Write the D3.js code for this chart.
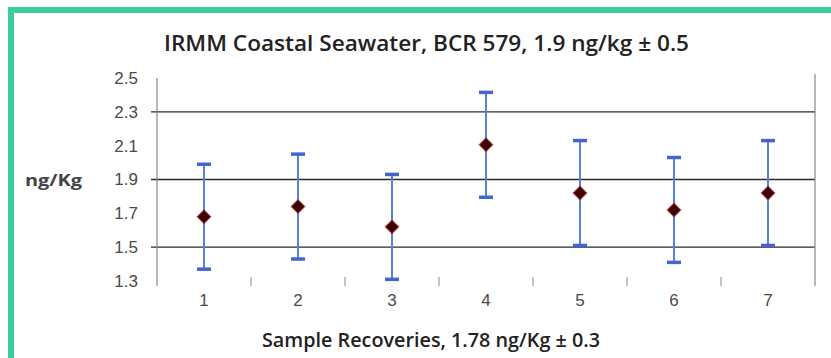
<!DOCTYPE html>
<html>
<head>
<meta charset="utf-8">
<script src="https://cdn.jsdelivr.net/npm/d3@7"></script>
<style>
  html, body { margin: 0; padding: 0; background: #fff; }
  svg { display: block; }
</style>
</head>
<body>
<div id="chart"></div>
<script>
const samples = ['1', '2', '3', '4', '5', '6', '7']
const means = [1.68, 1.74, 1.62, 2.105, 1.82, 1.72, 1.82]
const errors = [0.31, 0.31, 0.31, 0.31, 0.31, 0.31, 0.31]
const yTicks = [1.3, 1.5, 1.7, 1.9, 2.1, 2.3, 2.5]
const gridValues = [1.5, 1.9, 2.3]

const title = 'IRMM Coastal Seawater, BCR 579, 1.9 ng/kg \u00b1 0.5'
const xTitle = 'Sample Recoveries, 1.78 ng/Kg \u00b1 0.3'
const yTitle = 'ng/Kg'

const width = 831
const height = 358
const margin = { top: 78, right: 16, bottom: 77, left: 157 }
const tickFont = 'Liberation Sans Narrow, Arial Narrow, Liberation Sans, sans-serif'
const titleFont = 'Open Sans, Noto Sans, sans-serif'

const svg = d3.select('#chart')
  .append('svg')
  .attr('width', width)
  .attr('height', height)

// green frame on top/left edges
svg.append('rect').attr('x', 8).attr('y', 7).attr('width', width - 8).attr('height', 6).attr('fill', '#3dcd98')
svg.append('rect').attr('x', 8).attr('y', 7).attr('width', 6).attr('height', height - 7).attr('fill', '#3dcd98')

const x = d3.scaleBand()
  .domain(samples)
  .range([margin.left, width - margin.right])

const y = d3.scaleLinear()
  .domain([1.3, 2.5])
  .range([height - margin.bottom, margin.top])

const g = svg.append('g')

// gridlines
g.selectAll('line.grid')
  .data(gridValues)
  .join('line')
  .attr('class', 'grid')
  .attr('x1', margin.left - 6)
  .attr('x2', width - margin.right)
  .attr('y1', d => y(d))
  .attr('y2', d => y(d))
  .attr('stroke', '#2a2a2a')
  .attr('stroke-width', 1.4)

// left and right axis lines
g.append('line')
  .attr('x1', margin.left).attr('x2', margin.left)
  .attr('y1', y(2.5)).attr('y2', y(1.3) + 5)
  .attr('stroke', '#888').attr('stroke-width', 1.2)
g.append('line')
  .attr('x1', width - margin.right).attr('x2', width - margin.right)
  .attr('y1', y(2.5) - 4).attr('y2', y(1.3) + 5)
  .attr('stroke', '#888').attr('stroke-width', 1.2)

// y tick labels
const yAxis = d3.axisLeft(y).tickValues(yTicks).tickFormat(d3.format('.1f')).tickSize(0).tickPadding(19)
const yAxisG = g.append('g')
  .attr('transform', `translate(${margin.left},0)`)
  .call(yAxis)
yAxisG.select('.domain').remove()
yAxisG.selectAll('text')
  .attr('fill', '#4a4a4a')
  .attr('font-size', '17px')
  .attr('font-family', tickFont)

// x tick marks between categories
const boundaries = samples.slice(1).map(s => x(s))
g.selectAll('line.xtick')
  .data(boundaries)
  .join('line')
  .attr('class', 'xtick')
  .attr('x1', d => d).attr('x2', d => d)
  .attr('y1', y(1.3) - 4).attr('y2', y(1.3) + 5)
  .attr('stroke', '#999').attr('stroke-width', 1.2)

// x labels
const xAxis = d3.axisBottom(x).tickSize(0).tickPadding(13)
const xAxisG = g.append('g')
  .attr('transform', `translate(0,${y(1.3)})`)
  .call(xAxis)
xAxisG.select('.domain').remove()
xAxisG.selectAll('text')
  .attr('fill', '#4a4a4a')
  .attr('font-size', '17px')
  .attr('font-family', tickFont)

const data = samples.map((s, i) => ({ s, mean: means[i], err: errors[i] }))
const cx = d => x(d.s) + x.bandwidth() / 2

// error bars
const bars = g.append('g').selectAll('g').data(data).join('g')
bars.append('line')
  .attr('x1', cx).attr('x2', cx)
  .attr('y1', d => y(d.mean + d.err))
  .attr('y2', d => y(d.mean - d.err))
  .attr('stroke', '#5a80dc')
  .attr('stroke-width', 2)
bars.selectAll('line.cap')
  .data(d => [d.mean + d.err, d.mean - d.err].map(v => ({ d, v })))
  .join('line')
  .attr('class', 'cap')
  .attr('x1', p => cx(p.d) - 7).attr('x2', p => cx(p.d) + 7)
  .attr('y1', p => y(p.v)).attr('y2', p => y(p.v))
  .attr('stroke', '#4466cc')
  .attr('stroke-width', 3.5)

// diamond markers
const diamond = d3.symbol().type(d3.symbolDiamond2).size(115)
g.append('g').selectAll('path')
  .data(data)
  .join('path')
  .attr('d', diamond)
  .attr('transform', d => `translate(${cx(d)},${y(d.mean)})`)
  .attr('fill', '#3a0306')
  .attr('stroke', '#a01818')
  .attr('stroke-width', 1.4)
  .attr('stroke-opacity', 0.55)

// titles
svg.append('text')
  .attr('x', 164).attr('y', 51)
  .attr('textLength', 525)
  .attr('lengthAdjust', 'spacingAndGlyphs')
  .attr('font-size', '21px')
  .attr('font-weight', 600)
  .attr('font-family', titleFont)
  .attr('fill', '#222')
  .text(title)

svg.append('text')
  .attr('x', 262).attr('y', 347)
  .attr('textLength', 338)
  .attr('lengthAdjust', 'spacingAndGlyphs')
  .attr('font-size', '20px')
  .attr('font-weight', 600)
  .attr('font-family', titleFont)
  .attr('fill', '#222')
  .text(xTitle)

svg.append('text')
  .attr('x', 25).attr('y', 186)
  .attr('textLength', 57)
  .attr('lengthAdjust', 'spacingAndGlyphs')
  .attr('font-size', '16px')
  .attr('font-weight', 'bold')
  .attr('font-family', titleFont)
  .attr('fill', '#444')
  .text(yTitle)
</script>
</body>
</html>
